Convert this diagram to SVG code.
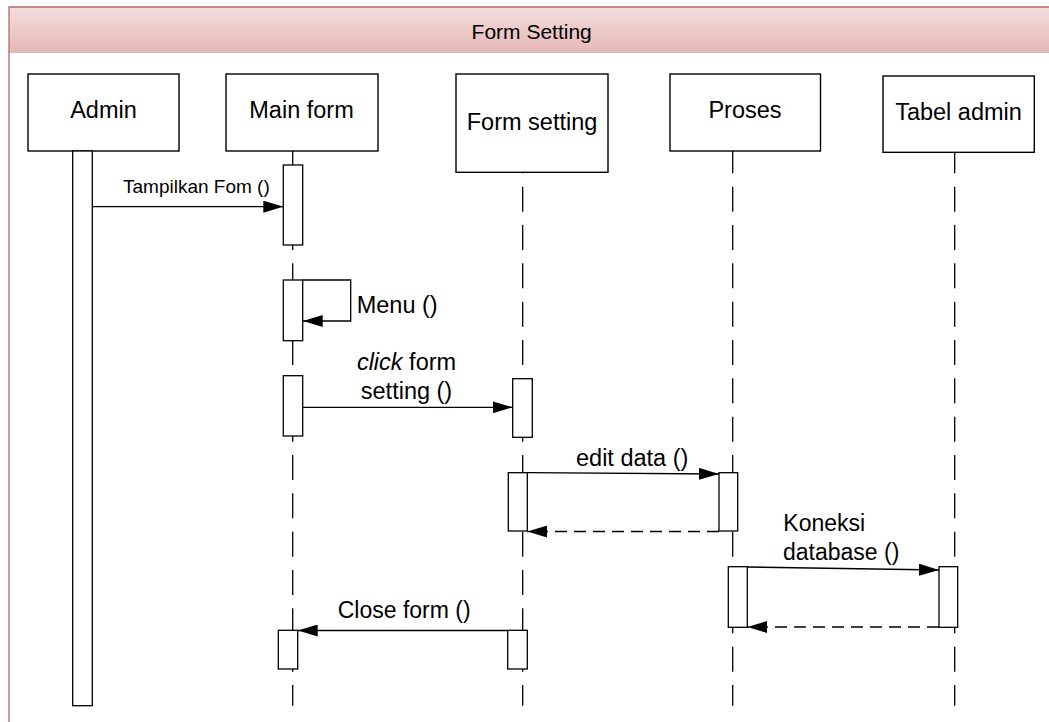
<svg xmlns="http://www.w3.org/2000/svg" width="1049" height="722" viewBox="0 0 1049 722">
<defs>
<linearGradient id="hdr" x1="0" y1="0" x2="0" y2="1">
<stop offset="0" stop-color="#f3dedd"/>
<stop offset="1" stop-color="#e5b7b5"/>
</linearGradient>
<marker id="ah" viewBox="0 0 20 12" markerWidth="20" markerHeight="12" refX="20" refY="6" orient="auto" markerUnits="userSpaceOnUse">
<path d="M0,0 L20,6 L0,12 z" fill="#000"/>
</marker>
</defs>
<style>
.box{fill:#fff;stroke:#000;stroke-width:1.4}
.bar{fill:#fff;stroke:#000;stroke-width:1.3}
.life{stroke:#000;stroke-width:1.3;stroke-dasharray:25 13.33;fill:none}
.msg{stroke:#000;stroke-width:1.3;fill:none;marker-end:url(#ah)}
.ret{stroke:#000;stroke-width:1.3;fill:none;stroke-dasharray:12 7;marker-end:url(#ah)}
.lbl{font-family:"Liberation Sans",Arial,sans-serif;font-size:23.5px;fill:#000}
.ml{font-family:"Liberation Sans",Arial,sans-serif;font-size:23px;fill:#000}
</style>
<g id="frame">
<rect x="9" y="7" width="1045" height="46" fill="url(#hdr)"/>
<path d="M1049,7 H9 V722" fill="none" stroke="#b56a67" stroke-width="1.3"/>
<text x="531.7" y="39.3" text-anchor="middle" font-family="Liberation Sans, Arial, sans-serif" font-size="21" fill="#000">Form Setting</text>
</g>
<g id="lifelines">
<line class="life" x1="292.7" y1="148.37" x2="292.7" y2="705.7"/>
<line class="life" x1="522.7" y1="148.37" x2="522.7" y2="705.7"/>
<line class="life" x1="732.7" y1="148.37" x2="732.7" y2="705.7"/>
<line class="life" x1="954.7" y1="148.37" x2="954.7" y2="705.7"/>
</g>
<g id="admin">
<rect class="box" x="28" y="74" width="151" height="77"/>
<text class="lbl" x="103.5" y="118" text-anchor="middle">Admin</text>
<rect class="bar" x="72.7" y="151" width="19.6" height="554.7"/>
</g>
<g id="main-form">
<rect class="box" x="226" y="74" width="152" height="77"/>
<text class="lbl" x="301.5" y="118" text-anchor="middle">Main form</text>
<rect class="bar" x="283.3" y="165" width="19.4" height="80"/>
<rect class="bar" x="283.3" y="280" width="19.4" height="60.7"/>
<rect class="bar" x="283.3" y="375.7" width="19.4" height="60.3"/>
<rect class="bar" x="278.3" y="630.3" width="19.4" height="38.7"/>
</g>
<g id="form-setting">
<rect class="box" x="456" y="74" width="152" height="98.3"/>
<text class="lbl" x="532" y="130" text-anchor="middle">Form setting</text>
<rect class="bar" x="512.7" y="378.7" width="19.6" height="58.6"/>
<rect class="bar" x="508.3" y="472.7" width="19" height="58.3"/>
<rect class="bar" x="507.7" y="630.3" width="19.6" height="38.7"/>
</g>
<g id="proses">
<rect class="box" x="670" y="74" width="150.5" height="77"/>
<text class="lbl" x="745" y="118" text-anchor="middle">Proses</text>
<rect class="bar" x="719" y="472.7" width="18.7" height="58.3"/>
<rect class="bar" x="728.3" y="566.7" width="19" height="60.6"/>
</g>
<g id="tabel-admin">
<rect class="box" x="883" y="76" width="151.3" height="76.3"/>
<text class="lbl" x="958.5" y="120" text-anchor="middle">Tabel admin</text>
<rect class="bar" x="939" y="566.7" width="18.7" height="60.6"/>
</g>
<g id="connectors">
<line class="msg" x1="92.3" y1="206.7" x2="283.3" y2="206.7"/>
<text x="123" y="192.7" font-family="Liberation Sans, Arial, sans-serif" font-size="19" fill="#000">Tampilkan Fom ()</text>
<path class="msg" d="M302.7,280 H350.7 V321 H302.7"/>
<text class="lbl" x="356.7" y="313.3">Menu ()</text>
<line class="msg" x1="302.7" y1="407.3" x2="512.7" y2="407.3"/>
<text class="lbl" x="406.5" y="370" text-anchor="middle"><tspan font-style="italic">click</tspan> form</text>
<text class="lbl" x="406.5" y="399.3" text-anchor="middle">setting ()</text>
<line class="msg" x1="527.3" y1="472.7" x2="719" y2="474"/>
<text class="lbl" x="576" y="466">edit data ()</text>
<line class="ret" x1="719" y1="531.5" x2="527.3" y2="531.5"/>
<line class="msg" x1="747.3" y1="567" x2="939" y2="570"/>
<text class="ml" x="783.3" y="530.7">Koneksi</text>
<text class="ml" x="783" y="560">database ()</text>
<line class="ret" x1="939" y1="627" x2="747.3" y2="627"/>
<line class="msg" x1="507.7" y1="630.5" x2="297.7" y2="630.5"/>
<text class="ml" x="337.7" y="617.5">Close form ()</text>
</g>
</svg>
